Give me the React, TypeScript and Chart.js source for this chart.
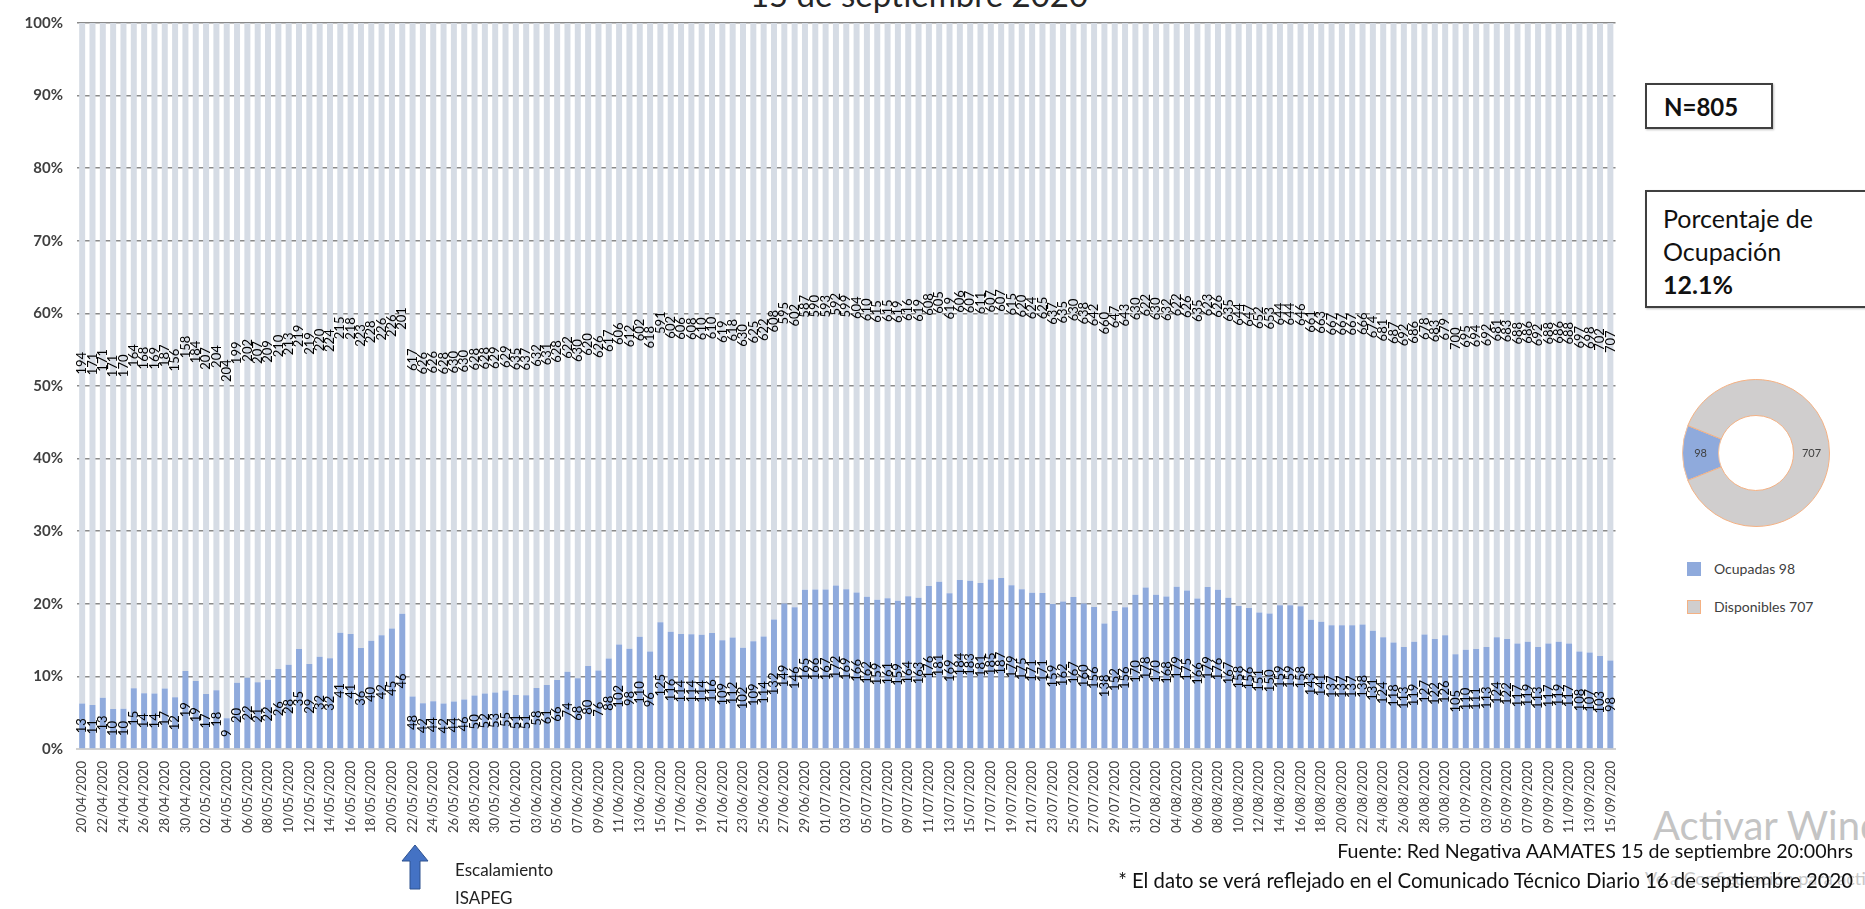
import React, { useEffect, useRef } from "react";
import { Chart, registerables } from "chart.js";

Chart.register(...registerables);

const dates: string[] = [
  "20/04/2020","21/04/2020","22/04/2020","23/04/2020","24/04/2020","25/04/2020","26/04/2020","27/04/2020","28/04/2020","29/04/2020","30/04/2020",
  "01/05/2020","02/05/2020","03/05/2020","04/05/2020","05/05/2020","06/05/2020","07/05/2020","08/05/2020","09/05/2020","10/05/2020",
  "11/05/2020","12/05/2020","13/05/2020","14/05/2020","15/05/2020","16/05/2020","17/05/2020","18/05/2020","19/05/2020","20/05/2020",
  "21/05/2020","22/05/2020","23/05/2020","24/05/2020","25/05/2020","26/05/2020","27/05/2020","28/05/2020","29/05/2020","30/05/2020","31/05/2020",
  "01/06/2020","02/06/2020","03/06/2020","04/06/2020","05/06/2020","06/06/2020","07/06/2020","08/06/2020","09/06/2020","10/06/2020",
  "11/06/2020","12/06/2020","13/06/2020","14/06/2020","15/06/2020","16/06/2020","17/06/2020","18/06/2020","19/06/2020","20/06/2020",
  "21/06/2020","22/06/2020","23/06/2020","24/06/2020","25/06/2020","26/06/2020","27/06/2020","28/06/2020","29/06/2020","30/06/2020",
  "01/07/2020","02/07/2020","03/07/2020","04/07/2020","05/07/2020","06/07/2020","07/07/2020","08/07/2020","09/07/2020","10/07/2020",
  "11/07/2020","12/07/2020","13/07/2020","14/07/2020","15/07/2020","16/07/2020","17/07/2020","18/07/2020","19/07/2020","20/07/2020",
  "21/07/2020","22/07/2020","23/07/2020","24/07/2020","25/07/2020","26/07/2020","27/07/2020","28/07/2020","29/07/2020","30/07/2020","31/07/2020",
  "01/08/2020","02/08/2020","03/08/2020","04/08/2020","05/08/2020","06/08/2020","07/08/2020","08/08/2020","09/08/2020","10/08/2020",
  "11/08/2020","12/08/2020","13/08/2020","14/08/2020","15/08/2020","16/08/2020","17/08/2020","18/08/2020","19/08/2020","20/08/2020",
  "21/08/2020","22/08/2020","23/08/2020","24/08/2020","25/08/2020","26/08/2020","27/08/2020","28/08/2020","29/08/2020","30/08/2020","31/08/2020",
  "01/09/2020","02/09/2020","03/09/2020","04/09/2020","05/09/2020","06/09/2020","07/09/2020","08/09/2020","09/09/2020","10/09/2020",
  "11/09/2020","12/09/2020","13/09/2020","14/09/2020","15/09/2020"
];

const ocupadas: number[] = [
  13, 11, 13, 10, 10, 15, 14, 14, 17, 12, 19, 19, 17, 18, 9, 20, 22, 21, 22, 26, 28, 35, 29, 32, 32, 41, 41, 36, 40, 42, 45, 46,
  48, 42, 44, 42, 44, 46, 50, 52, 53, 55,
  51, 51, 58, 61, 66, 74, 68, 80, 76, 88,
  102, 98, 110, 96, 125, 116, 114, 114, 114, 116,
  109, 112, 102, 109, 114, 132, 149, 146, 165, 166,
  167, 172, 169, 166, 162, 159, 161, 159, 164, 163,
  176, 181, 169, 184, 183, 181, 185, 187, 179, 175,
  171, 171, 159, 162, 167, 160, 156, 138, 152, 156,
  170, 178, 170, 168, 179, 175, 166, 179, 176, 167,
  158, 156, 151, 150, 159, 159, 158, 143, 141, 137,
  137, 137, 138, 131, 124, 118, 113, 119, 127, 122,
  126, 105, 110, 111, 113, 124, 122, 117, 119, 113,
  117, 119, 117, 108, 107, 103, 98
];

const disponibles: number[] = [
  194, 171, 171, 171, 170, 164, 168, 169, 187, 156, 158, 184, 207, 204, 204, 199, 202, 207, 209, 210, 213, 219, 219, 220, 224, 215, 218, 223, 228, 226, 226, 201,
  617, 626, 626, 628, 630, 630, 628, 628, 629, 629,
  635, 637, 632, 631, 628, 622, 630, 620, 626, 617,
  606, 612, 602, 618, 591, 602, 606, 608, 610, 610,
  619, 618, 630, 625, 622, 608, 595, 602, 587, 590,
  593, 592, 599, 604, 610, 615, 615, 619, 616, 619,
  608, 605, 619, 606, 607, 611, 607, 607, 615, 620,
  624, 625, 637, 635, 630, 638, 642, 660, 647, 643,
  630, 622, 630, 632, 622, 626, 635, 623, 626, 635,
  644, 647, 652, 653, 644, 644, 646, 661, 663, 667,
  667, 667, 666, 674, 681, 687, 692, 686, 678, 683,
  679, 700, 695, 694, 692, 681, 683, 688, 686, 692,
  688, 686, 688, 697, 698, 702, 707
];

const yTicks: number[] = [0, 10, 20, 30, 40, 50, 60, 70, 80, 90, 100];

const donutLabels: string[] = ["Ocupadas", "Disponibles"];
const donutValues: number[] = [98, 707];

const BLUE = "#8faadc";
const GREY = "#d6dce5";
const FONT = "Lato, 'Noto Sans', sans-serif";

const barLabelsPlugin = {
  id: "barLabels",
  afterDatasetsDraw(chart: any) {
    const ctx = chart.ctx;
    const raws = [ocupadas, disponibles];
    chart.data.datasets.forEach((_ds: any, di: number) => {
      const meta = chart.getDatasetMeta(di);
      meta.data.forEach((el: any, i: number) => {
        const p = el.getProps(["x", "y", "base"], true);
        const cy = (p.y + p.base) / 2;
        ctx.save();
        ctx.translate(p.x, cy);
        ctx.rotate(-Math.PI / 2);
        ctx.textAlign = "center";
        ctx.textBaseline = "middle";
        ctx.font = `13px ${FONT}`;
        ctx.fillStyle = "#000";
        ctx.fillText(String(raws[di][i]), 0, 0);
        ctx.restore();
      });
    });
  },
};

const donutLabelsPlugin = {
  id: "donutLabels",
  afterDatasetsDraw(chart: any) {
    const ctx = chart.ctx;
    const meta = chart.getDatasetMeta(0);
    meta.data.forEach((arc: any, i: number) => {
      const pos = arc.tooltipPosition(true);
      ctx.save();
      ctx.textAlign = "center";
      ctx.textBaseline = "middle";
      ctx.font = `11px ${FONT}`;
      ctx.fillStyle = "#404040";
      ctx.fillText(String(donutValues[i]), pos.x, pos.y);
      ctx.restore();
    });
  },
};

function MainChart() {
  const ref = useRef<HTMLCanvasElement>(null);
  useEffect(() => {
    if (!ref.current) return;
    const pct = (a: number[], i: number) => (a[i] / (ocupadas[i] + disponibles[i])) * 100;
    const chart = new Chart(ref.current, {
      type: "bar",
      data: {
        labels: dates,
        datasets: [
          {
            label: "Ocupadas",
            data: ocupadas.map((_v, i) => pct(ocupadas, i)),
            backgroundColor: BLUE,
            barPercentage: 0.58,
            categoryPercentage: 1,
          },
          {
            label: "Disponibles",
            data: disponibles.map((_v, i) => pct(disponibles, i)),
            backgroundColor: GREY,
            barPercentage: 0.58,
            categoryPercentage: 1,
          },
        ],
      },
      options: {
        responsive: false,
        animation: false,
        devicePixelRatio: 1,
        layout: { padding: { left: 0, right: 10, top: 17, bottom: 0 } },
        plugins: { legend: { display: false }, tooltip: { enabled: false } },
        scales: {
          x: {
            stacked: true,
            grid: { display: false },
            border: { display: true, color: "#d0d0d0", width: 2 },
            ticks: {
              autoSkip: false,
              maxRotation: 90,
              minRotation: 90,
              padding: 4,
              color: "#404040",
              font: { size: 13, family: FONT },
              callback: (_v: any, i: number) => (i % 2 === 0 ? dates[i] : ""),
            },
            afterFit: (s: any) => {
              s.height = 111;
            },
          },
          y: {
            stacked: true,
            min: 0,
            max: 100,
            ticks: {
              stepSize: 10,
              padding: 14,
              color: "#404040",
              font: { size: 15, weight: "bold", family: FONT },
              callback: (v: any) => v + "%",
            },
            grid: {
              display: true,
              drawOnChartArea: true,
              color: "#8a8a8a",
              drawTicks: false,
              lineWidth: 1.5,
            },
            border: { display: false },
            afterFit: (s: any) => {
              s.width = 77;
            },
          },
        },
      },
      plugins: [barLabelsPlugin],
    } as any);
    return () => chart.destroy();
  }, []);
  return <canvas ref={ref} width={1630} height={860} style={{ position: "absolute", left: 0, top: 0, width: 1630, height: 860 }} />;
}

function DonutChart() {
  const ref = useRef<HTMLCanvasElement>(null);
  useEffect(() => {
    if (!ref.current) return;
    const chart = new Chart(ref.current, {
      type: "doughnut",
      data: {
        labels: donutLabels,
        datasets: [
          {
            data: donutValues,
            backgroundColor: [BLUE, "#d0cece"],
            borderColor: ["#f4c29e", "#f4b183"],
            borderWidth: 1,
          },
        ],
      },
      options: {
        responsive: false,
        animation: false,
        devicePixelRatio: 1,
        rotation: 248.1,
        cutout: "51%",
        layout: { padding: 1 },
        plugins: { legend: { display: false }, tooltip: { enabled: false } },
      },
      plugins: [donutLabelsPlugin],
    } as any);
    return () => chart.destroy();
  }, []);
  return <canvas ref={ref} width={150} height={150} style={{ position: "absolute", left: 1681, top: 378, width: 150, height: 150 }} />;
}

export default function App() {
  const txt: React.CSSProperties = { position: "absolute", whiteSpace: "nowrap", fontFamily: FONT };
  return (
    <div style={{ position: "absolute", left: 0, top: 0, width: 1865, height: 909, overflow: "hidden", background: "#fff", fontFamily: FONT }}>
      <div style={{ ...txt, left: 0, width: 1838, textAlign: "center", top: -22, fontSize: 33, lineHeight: "33px", color: "#262626" }}>
        15 de septiembre 2020
      </div>
      <MainChart />
      <div style={{ ...txt, left: 1645, top: 83, width: 128, height: 46, border: "2px solid #404040", boxShadow: "1px 1px 2px rgba(0,0,0,0.25)", boxSizing: "border-box" }}>
        <div style={{ ...txt, left: 17, top: 8, fontSize: 24, lineHeight: "28px", fontWeight: 700, color: "#111" }}>N=805</div>
      </div>
      <div style={{ ...txt, left: 1645, top: 190, width: 240, height: 118, border: "2px solid #404040", boxShadow: "1px 1px 2px rgba(0,0,0,0.25)", boxSizing: "border-box" }}>
        <div style={{ ...txt, left: 16, top: 10, fontSize: 25, lineHeight: "33px", color: "#111" }}>
          Porcentaje de
          <br />
          Ocupación
          <br />
          <b>12.1%</b>
        </div>
      </div>
      <DonutChart />
      <div style={{ position: "absolute", left: 1687, top: 562, width: 14, height: 14, background: BLUE }} />
      <div style={{ ...txt, left: 1714, top: 560, fontSize: 14, lineHeight: "18px", color: "#404040" }}>Ocupadas 98</div>
      <div style={{ position: "absolute", left: 1687, top: 600, width: 14, height: 14, background: "#d0cece", border: "1px solid #f4b183", boxSizing: "border-box" }} />
      <div style={{ ...txt, left: 1714, top: 598, fontSize: 14, lineHeight: "18px", color: "#404040" }}>Disponibles 707</div>

      <div style={{ ...txt, left: 1653, top: 803, fontSize: 40, lineHeight: "44px", color: "#c4c4c4" }}>Activar Windows</div>
      <div style={{ ...txt, left: 1645, top: 868, fontSize: 18, lineHeight: "20px", color: "#c8c8c8" }}>Ve a Configuración para activar Windows.</div>

      <div style={{ ...txt, right: 12, top: 840, fontSize: 19.6, lineHeight: "22px", color: "#111", textAlign: "right" }}>
        Fuente: Red Negativa AAMATES 15 de septiembre 20:00hrs
      </div>
      <div style={{ ...txt, right: 12, top: 869, fontSize: 20.3, lineHeight: "22px", color: "#111", textAlign: "right" }}>
        * El dato se verá reflejado en el Comunicado Técnico Diario 16 de septiembre 2020
      </div>

      <svg style={{ position: "absolute", left: 400, top: 844 }} width={30} height={46}>
        <polygon points="15,1 28,17 20,17 20,45 10,45 10,17 2,17" fill="#4472c4" stroke="#2f528f" strokeWidth={1} />
      </svg>
      <div style={{ ...txt, left: 455, top: 860, fontSize: 17, lineHeight: "20px", color: "#222" }}>Escalamiento</div>
      <div style={{ ...txt, left: 455, top: 888, fontSize: 17, lineHeight: "20px", color: "#222" }}>ISAPEG</div>
    </div>
  );
}
